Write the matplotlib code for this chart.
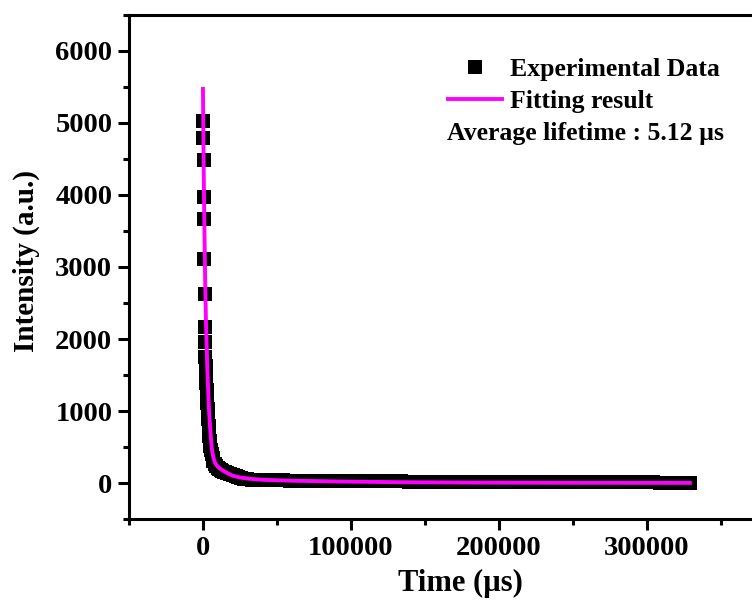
import numpy as np
import matplotlib
matplotlib.use("Agg")
import matplotlib.pyplot as plt
from matplotlib.ticker import MultipleLocator

plt.rcParams['font.family'] = ['Liberation Serif', 'DejaVu Serif']
plt.rcParams['font.weight'] = 'bold'
plt.rcParams['mathtext.default'] = 'regular'

# decay curve, time in us
t_head = [0, 190, 380, 570, 760, 950, 1140, 1330, 1520]
i_head = [5030, 4790, 4490, 3970, 3660, 3110, 2630, 2170, 1960]

t_mid = [1700, 1900, 2100, 2300, 2500, 2700, 2900, 3100, 3300, 3500,
         3800, 4100, 4400, 4700, 5000, 5500, 6000, 6500, 7000, 8000,
         9000, 10000, 11000, 12000, 13000, 14000, 15000, 16500, 18000,
         20000, 22000, 24000, 26000, 28000, 30000, 33000, 36000]
i_mid = [1750, 1620, 1500, 1390, 1290, 1200, 1110, 1030, 960, 890,
         800, 720, 650, 590, 520, 460, 400, 350, 310, 270,
         240, 215, 198, 185, 172, 162, 150, 138, 126,
         110, 95, 82, 72, 64, 58, 51, 47]

t_tail = np.arange(39000, 330000, 5000)
i_tail = [44, 42, 40, 39, 38, 37, 36, 35, 34, 33, 32, 31, 30, 29, 28,
          28, 27, 26, 26, 25, 24, 24, 23, 22, 22, 21, 21, 20, 20, 19,
          19, 18, 18, 17, 17, 16, 16, 15, 15, 15, 14, 14, 14, 13, 13,
          13, 12, 12, 12, 12, 11, 11, 11, 11, 10, 10, 10, 10, 10]

t_data = np.concatenate([t_head, t_mid, t_tail])
i_data = np.concatenate([i_head, i_mid, i_tail])

# fitted curve
t_fit = [0, 500, 1000, 1500, 2000, 3000, 4000, 5000, 6000, 7000, 8000,
         10000, 12000, 14000, 17000, 20000, 25000, 30000, 40000, 60000,
         90000, 130000, 180000, 250000, 329000]
i_fit = [5470, 4350, 3500, 2800, 2270, 1550, 1050, 720, 480, 360, 290,
         230, 195, 170, 135, 105, 80, 65, 48, 35, 25, 15, 9, 6, 5]

fig = plt.figure(figsize=(7.52, 6.02), dpi=100)
ax = fig.add_axes([0.1715, 0.1374, 0.8816, 0.8382])

ax.plot(t_data, i_data, 's', color='black', markersize=10, markeredgewidth=0,
        label='Experimental Data')
ax.plot(t_fit, i_fit, '-', color='#FF00FF', linewidth=2.8,
        label='Fitting result')

ax.set_xlim(-50000, 398000)
ax.set_ylim(-500, 6500)
ax.xaxis.set_major_locator(MultipleLocator(100000))
ax.xaxis.set_minor_locator(MultipleLocator(50000))
ax.yaxis.set_major_locator(MultipleLocator(1000))
ax.yaxis.set_minor_locator(MultipleLocator(500))

for s in ax.spines.values():
    s.set_linewidth(2.2)
ax.tick_params(which='major', direction='out', length=8, width=2.2,
               labelsize=20.5, pad=4)
ax.tick_params(which='minor', direction='out', length=4.5, width=2.2)
ax.tick_params(top=False, right=False, which='both')

ax.set_xlabel('Time (µs)', fontsize=22, fontweight='bold', labelpad=6)
ax.set_ylabel('Intensity (a.u.)', fontsize=21, fontweight='bold')
ax.yaxis.set_label_coords(-0.134, 0.512)

leg = ax.legend(loc='upper left', bbox_to_anchor=(0.481, 0.914), frameon=False,
                fontsize=18.5, handlelength=2.1, handletextpad=0.31,
                labelspacing=0.33, borderaxespad=0, borderpad=0)
ax.text(0.4795, 0.764, 'Average lifetime : 5.12 µs', transform=ax.transAxes,
        fontsize=18.5, fontweight='bold', va='center', ha='left')

fig.savefig('out.png', dpi=100)
